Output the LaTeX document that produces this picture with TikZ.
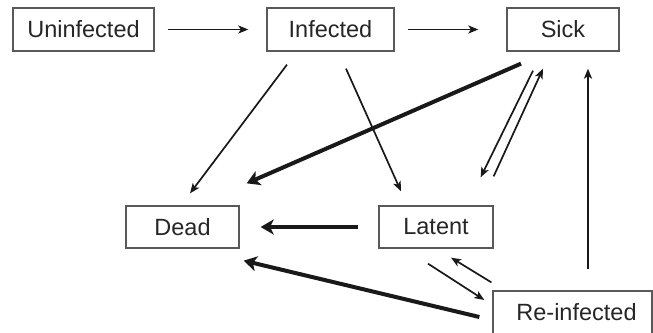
\documentclass[tikz,border=0pt]{standalone}
\usepackage{fontspec}
\setmainfont{Liberation Sans}
\usetikzlibrary{arrows.meta}
\begin{document}
\begin{tikzpicture}[x=1pt,y=-1pt,
  box/.style={draw=black!65, line width=1.3pt, rectangle, inner sep=0pt,
    minimum height=43pt, text=black!85, font=\fontsize{23.5}{25}\selectfont},
  thinarrow/.style={line width=1.7pt, draw=black!90, -{Stealth[length=10pt,width=8pt,inset=2.5pt]}},
  thickarrow/.style={line width=4pt, draw=black!90, -{Stealth[length=13pt,width=15pt,inset=3.5pt]}}]
\useasboundingbox (0,0) rectangle (653,332);
\node[box, minimum width=141pt] (uninf) at (83.5,29.5) {Uninfected};
\node[box, minimum width=127pt] (inf) at (330.5,29.5) {Infected};
\node[box, minimum width=112pt] (sick) at (563,29.5) {Sick};
\node[box, minimum width=113pt, minimum height=42pt] (dead) at (182.5,227) {Dead};
\node[box, minimum width=114pt, minimum height=42pt] (latent) at (436,227) {Latent};
\node[box, minimum width=159pt] (reinf) at (572.5,312.5) {\hspace*{8pt}Re-infected};
% top row
\draw[thinarrow] ([shift={(13,0)}]uninf.east) -- ([shift={(-18,0)}]inf.west);
\draw[thinarrow] ([shift={(13,0)}]inf.east) -- ([shift={(-28,0)}]sick.west);
% from infected
\draw[thinarrow] ([shift={(-43.5,13)}]inf.south) -- ([shift={(7.5,-12)}]dead.north);
\draw[thinarrow] ([shift={(15.5,17)}]inf.south) -- ([shift={(-35,-14)}]latent.north);
% sick to dead
\draw[thickarrow] ([shift={(-42,12)}]sick.south) -- ([shift={(7,-22)}]dead.north east);
% sick <-> latent
\draw[thinarrow] ([shift={(-30,19)}]sick.south) -- ([shift={(-13,-28)}]latent.north east);
\draw[thinarrow] ([shift={(0,-29)}]latent.north east) -- ([shift={(-20,17)}]sick.south);
% reinfected to sick
\draw[thinarrow, line width=2pt] ([shift={(15.5,-21)}]reinf.north) -- ([shift={(25,17)}]sick.south);
% latent to dead
\draw[thickarrow] ([shift={(-20,0)}]latent.west) -- ([shift={(21,0)}]dead.east);
% reinfected to dead
\draw[thickarrow] ([shift={(-13,4.5)}]reinf.west) -- ([shift={(4,12)}]dead.south east);
% latent <-> reinfected
\draw[thinarrow] ([shift={(-8,15)}]latent.south) -- ([shift={(-8,-12.5)}]reinf.west);
\draw[thinarrow] ([shift={(-1,-8)}]reinf.north west) -- ([shift={(15,9)}]latent.south);
\end{tikzpicture}
\end{document}
